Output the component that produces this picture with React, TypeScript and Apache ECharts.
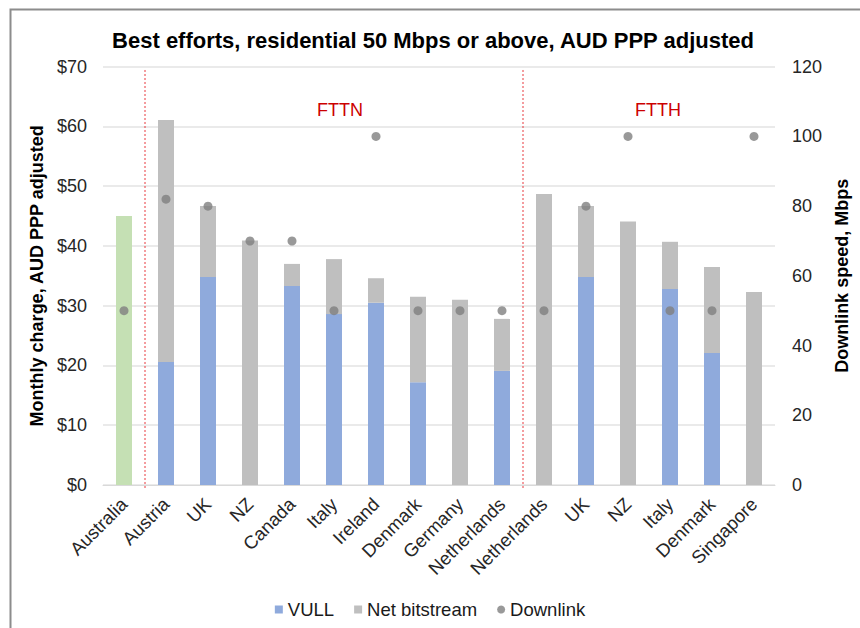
import React, { useEffect, useRef } from "react";
import * as echarts from "echarts";

const categories = [
  "Australia", "Austria", "UK", "NZ", "Canada", "Italy", "Ireland", "Denmark",
  "Germany", "Netherlands", "Netherlands", "UK", "NZ", "Italy", "Denmark", "Singapore",
];
const vull = [0, 20.6, 34.8, 0, 33.3, 28.6, 30.5, 17.2, 0, 19.1, 0, 34.8, 0, 32.8, 22.1, 0];
const totals = [45.0, 61.1, 46.7, 40.9, 37.0, 37.8, 34.6, 31.5, 31.0, 27.8, 48.7, 46.7, 44.1, 40.7, 36.5, 32.3];
const downlink = [50, 82, 80, 70, 70, 50, 100, 50, 50, 50, 50, 80, 100, 50, 50, 100];
const leftTicks = { min: 0, max: 70, interval: 10 };
const rightTicks = { min: 0, max: 120, interval: 20 };
const separatorIndices = [1, 10]; // category boundaries: before Austria, before FTTH Netherlands
const groupLabels = ["FTTN", "FTTH"];

const netBitstream = totals.map((t, i) => Math.round((t - vull[i]) * 10) / 10);

export default function App() {
  const ref = useRef<HTMLDivElement>(null);
  useEffect(() => {
    if (!ref.current) return;
    const chart = echarts.init(ref.current, null, { renderer: "svg" });
    const font = "Liberation Sans, Arial, sans-serif";
    const sepSeries = separatorIndices.map((s) => ({
      type: "line",
      name: "sep" + s,
      xAxisIndex: 1,
      yAxisIndex: 0,
      data: [[s, -0.5], [s, 69.45]],
      symbol: "none",
      clip: false,
      silent: true,
      lineStyle: { color: "#e8383d", width: 1, type: [2, 2] },
      z: 1,
    }));
    chart.setOption({
      animation: false,
      textStyle: { fontFamily: font },
      title: {
        text: "Best efforts, residential 50 Mbps or above, AUD PPP adjusted",
        left: 428,
        textAlign: "center",
        top: 24,
        textStyle: { fontSize: 22, fontWeight: "bold", color: "#000", fontFamily: font },
      },
      grid: { left: 103, right: 85, top: 66.7, bottom: 143, containLabel: false },
      legend: {
        data: [
          { name: "VULL", icon: "rect" },
          { name: "Net bitstream", icon: "rect" },
          { name: "Downlink", icon: "circle" },
        ],
        left: "center",
        top: 595,
        itemWidth: 8,
        itemHeight: 8,
        itemGap: 20,
        textStyle: { fontSize: 18.5, color: "#1a1a1a", fontFamily: font },
      },
      xAxis: [
        {
          type: "category",
          data: categories,
          axisLine: { show: true, lineStyle: { color: "#d9d9d9", width: 1 } },
          axisTick: { show: false },
          axisLabel: { rotate: 45, fontSize: 18.5, color: "#262626", margin: 16, interval: 0, fontFamily: font },
        },
        { type: "value", min: 0, max: categories.length, show: false },
      ],
      yAxis: [
        {
          type: "value",
          ...leftTicks,
          name: "Monthly charge, AUD PPP adjusted",
          nameLocation: "middle",
          nameGap: 50,
          nameTextStyle: { fontSize: 18, fontWeight: "bold", color: "#000", fontFamily: font },
          axisLabel: { formatter: "${value}", fontSize: 18, color: "#262626", margin: 16, fontFamily: font },
          axisLine: { show: false },
          axisTick: { show: false },
          splitLine: { lineStyle: { color: "#e3e3e3", width: 1.5 } },
        },
        {
          type: "value",
          ...rightTicks,
          position: "right",
          name: "Downlink speed, Mbps",
          nameLocation: "middle",
          nameGap: 47,
          nameTextStyle: { fontSize: 18, fontWeight: "bold", color: "#000", fontFamily: font },
          axisLabel: { fontSize: 18, color: "#262626", margin: 17, fontFamily: font },
          axisLine: { show: false },
          axisTick: { show: false },
          splitLine: { show: false },
        },
      ],
      series: [
        {
          name: "VULL",
          type: "bar",
          stack: "total",
          barWidth: 16,
          data: vull.map((v) => (v === 0 ? "-" : v)),
          itemStyle: { color: "#8faadc" },
          z: 2,
        },
        {
          name: "Net bitstream",
          type: "bar",
          stack: "total",
          barWidth: 16,
          data: netBitstream.map((v, i) =>
            i === 0 ? { value: v, itemStyle: { color: "#c5e0b4" } } : v
          ),
          itemStyle: { color: "#bfbfbf" },
          z: 2,
        },
        {
          name: "Downlink",
          type: "scatter",
          yAxisIndex: 1,
          data: downlink,
          symbolSize: 9,
          itemStyle: { color: "#7f7f7f" },
          z: 5,
        },
        ...sepSeries,
      ],
      graphic: [
        {
          type: "rect",
          shape: { x: 10.5, y: 9.5, width: 900, height: 700 },
          style: { fill: "none", stroke: "#8c8c8c", lineWidth: 2 },
          silent: true,
        },
        {
          type: "text",
          x: 340,
          y: 110,
          style: { text: groupLabels[0], fill: "#cc0000", fontSize: 18, fontFamily: font, align: "center", verticalAlign: "middle" },
        },
        {
          type: "text",
          x: 658,
          y: 110,
          style: { text: groupLabels[1], fill: "#cc0000", fontSize: 18, fontFamily: font, align: "center", verticalAlign: "middle" },
        },
      ],
    });
    return () => chart.dispose();
  }, []);
  return (
    <div
      ref={ref}
      style={{ position: "fixed", left: 0, top: 0, width: 860, height: 628, background: "#fff" }}
    />
  );
}
